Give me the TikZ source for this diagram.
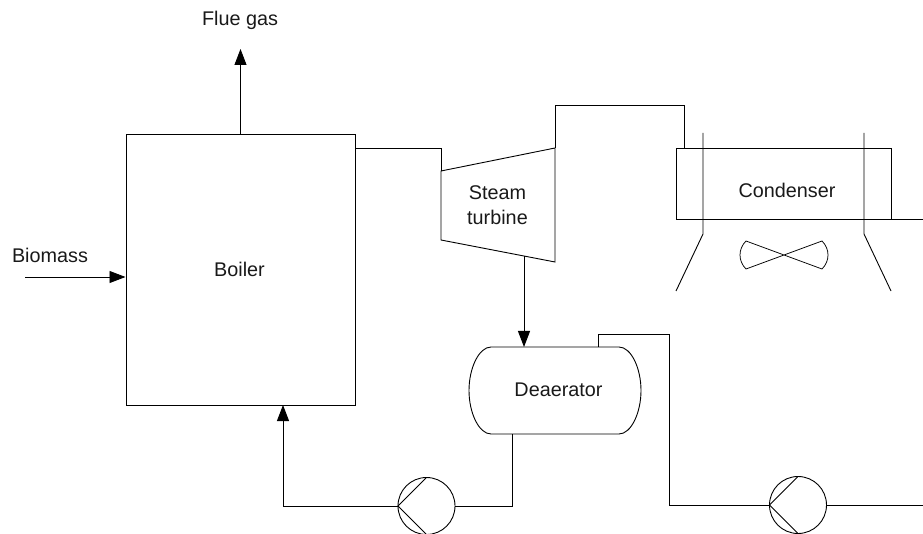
\documentclass[tikz,border=0pt]{standalone}
\usepackage{fontspec}
\setmainfont{Liberation Sans}
\usetikzlibrary{arrows.meta,calc}
\tikzset{
  line/.style={draw=black,line width=0.9pt,line join=miter},
  flow/.style={line,-{Triangle[length=16pt,width=12pt]}},
  unit/.style={line,rectangle,inner sep=0pt,outer sep=0pt},
  pumpc/.style={line,circle,minimum size=57pt,inner sep=0pt,outer sep=0pt},
  label/.style={font=\fontsize{19.8pt}{25pt}\selectfont,align=center,inner sep=0pt,text=black!90}
}
\begin{document}
\begin{tikzpicture}[x=1pt,y=-1pt]
\clip (0,0) rectangle (923,534);
% Boiler
\node[unit,minimum width=229pt,minimum height=271pt] (boiler) at (240.5,269.5) {};
\node[label] (boilertext) at (239.5,269) {Boiler};
% Flue gas and biomass
\coordinate (flueout) at (240.5,49);
\draw[flow] (boiler.north -| flueout) -- (flueout);
\node[label] (fluetext) at (240,20) {Flue gas};
\coordinate (biomassin) at (25,277);
\coordinate (biomassend) at (125.5,277);
\draw[flow] (biomassin) -- (biomassend);
\node[label] (biomasstext) at (50,255) {Biomass};
% Steam turbine
\coordinate (tl) at (441,171);
\coordinate (tr) at (555,148);
\coordinate (br) at (555,262);
\coordinate (bl) at (441,240);
\draw[line] (tl) -- (tr) -- (br) -- (bl) -- cycle;
\node[label] (turbinetext) at (497.5,205.5) {Steam\\turbine};
% Condenser
\node[unit,minimum width=215pt,minimum height=71pt] (cond) at (783.5,183.5) {};
\node[label] (condtext) at (787,190) {Condenser};
\coordinate (condout) at (923,219);
\draw[line] (cond.south east) -- (condout);
\coordinate (lt) at (703,133);
\coordinate (lb) at (703,234);
\coordinate (lf) at (676,291);
\coordinate (rt) at (864,133);
\coordinate (rb) at (864,234);
\coordinate (rf) at (891,291);
\draw[line] (lt) -- (lb) -- (lf);
\draw[line] (rt) -- (rb) -- (rf);
% Fan
\coordinate (fa) at (746,241);
\coordinate (fb) at (822,269);
\coordinate (fc) at (746,269);
\coordinate (fd) at (822,241);
\draw[line,line width=0.75pt] (fa) -- (fb) .. controls (830,261) and (830,249) .. (fd) -- (fc) .. controls (738,261) and (738,249) .. (fa) -- cycle;
% Deaerator
\coordinate (dtl) at (491,347);
\coordinate (dtr) at (619,347);
\coordinate (dbl) at (491,434);
\coordinate (dbr) at (619,434);
\draw[line] (dtl) -- (dtr) .. controls (631,347) and (641,368) .. (641,390.5) .. controls (641,413) and (631,434) .. (dbr) -- (dbl) .. controls (479,434) and (469,413) .. (469,390.5) .. controls (469,368) and (479,347) .. (dtl) -- cycle;
\node[label] (deatext) at (558.5,390) {Deaerator};
% Pumps
\node[pumpc] (p1) at (426.5,506) {};
\node[pumpc] (p2) at (798,505) {};
\draw[line] (p1.north) -- (p1.west) -- (p1.south);
\draw[line] (p2.north) -- (p2.west) -- (p2.south);
% Connectors
\coordinate (boilerout) at (355,148);
\draw[line] (boilerout) -| (tl);
\coordinate (condin) at (684,148);
\coordinate (exh) at (555,105);
\draw[line] (tr) -- (exh) -| (condin);
\coordinate (turbout) at (524,256.5);
\coordinate (deain) at (524,347);
\draw[flow] (turbout) -- (deain);
\coordinate (deaout) at (598,347);
\coordinate (deatop) at (598,334);
\coordinate (deadown) at (512,434);
\coordinate (feedin) at (283,405);
\draw[line] (deaout) -- (deatop) -| (669,505) -- (p2.west);
\draw[line] (deadown) |- (p1.east);
\draw[flow] (p1.west) -| (feedin);
\coordinate (p2out) at (923,505);
\draw[line] (p2.east) -- (p2out);
\end{tikzpicture}
\end{document}
